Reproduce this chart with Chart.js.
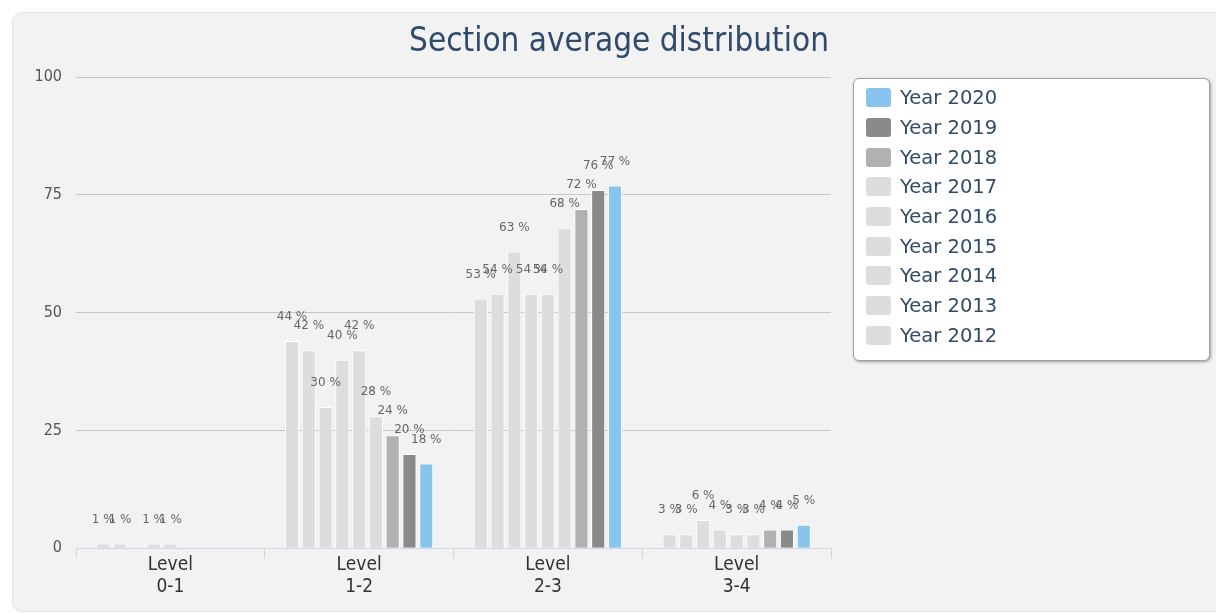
<!DOCTYPE html>
<html>
<head>
<meta charset="utf-8">
<script src="https://cdn.jsdelivr.net/npm/chart.js@4"></script>
<style>
  html, body { margin: 0; padding: 0; background: #fff; }
  body { width: 1216px; height: 613px; overflow: hidden; position: relative; }
  .panel { position: absolute; left: 12px; top: 12px; width: 1230px; height: 598px;
    background: #f2f2f2; border: 1px solid #e2e2e2; border-radius: 10px; }
  #chart { position: absolute; left: 0; top: 0; }
  .legend { position: absolute; left: 853px; top: 78px; width: 357px; height: 283px;
    background: #fff; border: 1px solid #a0a0a0; border-radius: 6px;
    box-shadow: 1px 1px 3px rgba(0,0,0,0.35); box-sizing: border-box; padding-top: 4px; }
  .legend .item { height: 29.7px; display: flex; align-items: center; padding-left: 12px;
    font: 19.5px "DejaVu Sans", sans-serif; color: #33496a; }
  .legend .sw { width: 25px; height: 19px; border-radius: 3px; margin-right: 9px; }
</style>
</head>
<body>
<div class="panel"></div>
<canvas id="chart" width="1216" height="613"></canvas>
<div class="legend" id="legend"></div>
<script>
const categories = [['Level', '0-1'], ['Level', '1-2'], ['Level', '2-3'], ['Level', '3-4']];
const years = ['Year 2012', 'Year 2013', 'Year 2014', 'Year 2015', 'Year 2016', 'Year 2017', 'Year 2018', 'Year 2019', 'Year 2020'];
const y2012 = [1, 44, 53, 3];
const y2013 = [1, 42, 54, 3];
const y2014 = [null, 30, 63, 6];
const y2015 = [1, 40, 54, 4];
const y2016 = [1, 42, 54, 3];
const y2017 = [null, 28, 68, 3];
const y2018 = [null, 24, 72, 4];
const y2019 = [null, 20, 76, 4];
const y2020 = [null, 18, 77, 5];
const yTicks = [0, 25, 50, 75, 100];

const series = [y2012, y2013, y2014, y2015, y2016, y2017, y2018, y2019, y2020];
const colors = ['#dddddd', '#dddddd', '#dddddd', '#dddddd', '#dddddd', '#dddddd', '#b1b1b1', '#8a8a8a', '#88c4ee'];

const titlePlugin = {
  id: 'hcTitle',
  afterDraw(c) {
    const ctx = c.ctx;
    ctx.save();
    ctx.font = '33px "DejaVu Sans Condensed", sans-serif';
    ctx.fillStyle = '#2f4a6b';
    ctx.textAlign = 'center';
    ctx.textBaseline = 'middle';
    ctx.fillText('Section average distribution', 619, 42);
    ctx.restore();
  }
};

// value labels above each bar
const labelPlugin = {
  id: 'barLabels',
  afterDatasetsDraw(c) {
    const ctx = c.ctx;
    ctx.save();
    ctx.font = '12px "DejaVu Sans", sans-serif';
    ctx.fillStyle = '#666';
    ctx.textAlign = 'center';
    ctx.textBaseline = 'middle';
    c.data.datasets.forEach((ds, i) => {
      c.getDatasetMeta(i).data.forEach((bar, j) => {
        if (ds.data[j] == null) return;
        ctx.fillText(ds.data[j] + ' %', bar.x, bar.y - 24);
      });
    });
    ctx.restore();
  }
};

const chart = new Chart(document.getElementById('chart'), {
  type: 'bar',
  data: {
    labels: categories,
    datasets: series.map((d, i) => ({
      label: years[i], data: d, backgroundColor: colors[i],
      borderColor: '#ffffff', borderWidth: 1,
      barPercentage: 0.84, categoryPercentage: 0.8
    }))
  },
  options: {
    responsive: false,
    animation: false,
    layout: { padding: { left: 36, right: 385, top: 77, bottom: 19 } },
    plugins: { legend: { display: false }, tooltip: { enabled: false } },
    scales: {
      x: {
        grid: { offset: true, drawOnChartArea: false, tickLength: 10, color: '#ccd6eb' },
        border: { color: '#ccd6eb' },
        ticks: { color: '#333', padding: -4, font: { family: '"DejaVu Sans Condensed", sans-serif', size: 19, lineHeight: 1.15 } }
      },
      y: {
        min: 0, max: 100,
        afterBuildTicks: s => { s.ticks = yTicks.map(v => ({ value: v })); },
        afterFit: s => { s.width = 40; },
        grid: { color: '#c6c6c6', drawTicks: false },
        border: { display: false },
        ticks: { color: '#555', padding: 14, font: { family: '"DejaVu Sans Condensed", sans-serif', size: 16 } }
      }
    }
  },
  plugins: [titlePlugin, labelPlugin]
});

// legend in reverse order, like the reference
document.getElementById('legend').innerHTML = chart.data.datasets.slice().reverse().map(ds =>
  '<div class="item"><span class="sw" style="background:' + ds.backgroundColor + '"></span>' + ds.label + '</div>'
).join('');
</script>
</body>
</html>
